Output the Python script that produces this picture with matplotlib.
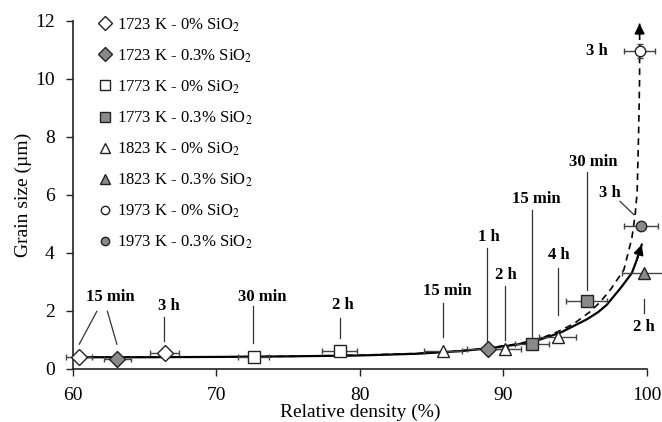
import matplotlib.pyplot as plt
from matplotlib.lines import Line2D

plt.rcParams['font.family'] = 'Liberation Serif'
plt.rcParams['mathtext.fontset'] = 'stix'

# relative density (%), grain size (um), density scatter (+/- %)
d1723_0 = [60.45, 66.4]
g1723_0 = [0.40, 0.53]
e1723_0 = [0.9, 1.0]

d1723_3 = [63.1, 88.9]
g1723_3 = [0.34, 0.70]
e1723_3 = [0.95, 1.4]

d1773_0 = [72.6, 78.6]
g1773_0 = [0.42, 0.60]
e1773_0 = [1.1, 1.2]

d1773_3 = [92.0, 95.8]
g1773_3 = [0.86, 2.34]
e1773_3 = [1.2, 1.4]

d1823_0 = [85.8, 90.1, 93.8]
g1823_0 = [0.62, 0.70, 1.10]
e1823_0 = [1.3, 1.1, 1.3]

d1823_3 = [99.8]
g1823_3 = [3.30]
e1823_3 = [1.5]

d1973_0 = [99.5]
g1973_0 = [10.95]
e1973_0 = [1.1]
ge1973_0 = [0.25]

d1973_3 = [99.6]
g1973_3 = [4.93]
e1973_3 = [1.2]

# grain growth trajectories (solid: 0.3% SiO2, dashed: 0% SiO2)
solid_x = [60.4, 65, 70, 75, 80, 84, 87, 89, 91, 92.5, 94, 95.8, 96.6, 97.2, 98.2, 98.96, 99.3, 99.65]
solid_y = [0.40, 0.40, 0.41, 0.43, 0.46, 0.52, 0.61, 0.71, 0.84, 1.0, 1.25, 1.7, 1.95, 2.2, 2.8, 3.3, 3.75, 4.28]
dash_x = [60.4, 65, 70, 75, 80, 84, 87, 89, 91, 92.5, 93.8, 94.9, 96, 96.75, 97.5, 98.4,
          98.96, 99.19, 99.33, 99.43, 99.5, 99.5]
dash_y = [0.40, 0.40, 0.41, 0.43, 0.47, 0.53, 0.62, 0.72, 0.86, 1.03, 1.28, 1.55, 1.95, 2.3,
          2.75, 3.41, 4.5, 5.31, 6.1, 8.1, 10.0, 11.9]

legend_labels = [r'1723 K - 0% SiO$_2$', r'1723 K - 0.3% SiO$_2$',
                 r'1773 K - 0% SiO$_2$', r'1773 K - 0.3% SiO$_2$',
                 r'1823 K - 0% SiO$_2$', r'1823 K - 0.3% SiO$_2$',
                 r'1973 K - 0% SiO$_2$', r'1973 K - 0.3% SiO$_2$']

# sintering time labels: text, text position, leader line (x0, y0, x1, y1)
time_labels = [
    ('15 min', (62.6, 2.47), [(61.67, 1.98, 60.45, 0.85), (62.41, 1.98, 63.07, 0.85)]),
    ('3 h', (66.7, 2.18), [(66.35, 1.78, 66.35, 0.95)]),
    ('30 min', (73.2, 2.49), [(72.55, 2.15, 72.55, 0.89)]),
    ('2 h', (78.8, 2.21), [(78.6, 1.75, 78.6, 1.06)]),
    ('15 min', (86.1, 2.67), [(85.8, 2.27, 85.8, 1.11)]),
    ('1 h', (89.0, 4.53), [(88.85, 4.16, 88.85, 0.95)]),
    ('2 h', (90.2, 3.24), [(90.1, 2.84, 90.1, 1.0)]),
    ('15 min', (92.3, 5.86), [(92.03, 5.46, 92.03, 1.1)]),
    ('4 h', (93.9, 3.93), [(93.8, 3.47, 93.8, 1.86)]),
    ('30 min', (96.3, 7.13), [(95.82, 6.78, 95.82, 2.72)]),
    ('3 h', (97.4, 6.06), [(98.14, 5.77, 99.11, 5.31)]),
    ('2 h', (99.8, 1.44), [(99.8, 2.40, 99.8, 1.92)]),
    ('3 h', (96.5, 10.94), []),
]

fig = plt.figure(figsize=(6.62, 4.22), dpi=100)
ax = fig.add_axes([0.11, 0.126, 0.867, 0.825])

grey = '#8a8a8a'
edge = '#222222'
ecol = '#444444'

# trend curves, each ending in an arrowhead
ax.plot(solid_x, solid_y, color='black', lw=1.6, zorder=2)
ax.plot(dash_x, dash_y, color='black', lw=1.2, ls=(0, (4, 3)), zorder=2)
for xs, ys, frac in [(solid_x, solid_y, 1.0), (dash_x, dash_y, 0.2)]:
    x0, y0 = xs[-2], ys[-2]
    x1, y1 = xs[-1], ys[-1]
    ax.annotate('', xy=(x1, y1), xytext=(x1 - frac * (x1 - x0), y1 - frac * (y1 - y0)),
                arrowprops=dict(arrowstyle='-|>', color='black', lw=1.2,
                                mutation_scale=15, shrinkA=0, shrinkB=0),
                annotation_clip=False, zorder=3)

series = [
    (d1723_0, g1723_0, e1723_0, None, 'D', 'white', 8.5),
    (d1723_3, g1723_3, e1723_3, None, 'D', grey, 8.5),
    (d1773_0, g1773_0, e1773_0, None, 's', 'white', 8),
    (d1773_3, g1773_3, e1773_3, None, 's', grey, 8),
    (d1823_0, g1823_0, e1823_0, None, '^', 'white', 8.5),
    (d1823_3, g1823_3, e1823_3, None, '^', grey, 8.5),
    (d1973_0, g1973_0, e1973_0, ge1973_0, 'o', 'white', 7.5),
    (d1973_3, g1973_3, e1973_3, None, 'o', grey, 7.5),
]

handles = []
for (xs, ys, xe, ye, mk, fc, ms), lab in zip(series, legend_labels):
    cont = ax.errorbar(xs, ys, xerr=xe, yerr=ye, fmt=mk, mfc=fc, mec=edge, mew=1.0, ms=ms,
                       ecolor=ecol, elinewidth=1.0, capsize=2.5, capthick=1.0, zorder=4)
    for art in cont.get_children():
        art.set_clip_on(False)
    handles.append(Line2D([], [], ls='none', marker=mk, mfc=fc, mec=edge, mew=1.0,
                          ms=ms - 1.5, label=lab))

for text, (tx, ty), lines in time_labels:
    ax.text(tx, ty, text, ha='center', va='center', fontsize=12, fontweight='bold')
    for x0, y0, x1, y1 in lines:
        ax.plot([x0, x1], [y0, y1], color='#333333', lw=0.9, zorder=1)

ax.set_xlim(60, 100)
ax.set_ylim(0, 12)
ax.set_xticks([60, 70, 80, 90, 100])
ax.set_yticks(range(0, 13, 2))
ax.spines['top'].set_visible(False)
ax.spines['right'].set_visible(False)
for s in ('left', 'bottom'):
    ax.spines[s].set_linewidth(1.2)
    ax.spines[s].set_color('#222222')
ax.tick_params(direction='out', length=5, width=1.0, colors='#222222', labelsize=14,
               labelcolor='black')
ax.tick_params(axis='y', pad=8)
ax.tick_params(axis='x', pad=8)

ax.set_xlabel('Relative density (%)', fontsize=14, labelpad=0)
ax.set_ylabel('Grain size (\u00b5m)', fontsize=14, labelpad=2)

ax.legend(handles=handles, loc='upper left', bbox_to_anchor=(0.045, 1.013), frameon=False,
          fontsize=12, handlelength=0.8, handletextpad=0.3, labelspacing=0.82,
          borderpad=0, borderaxespad=0)

fig.savefig('out.png', dpi=100)
